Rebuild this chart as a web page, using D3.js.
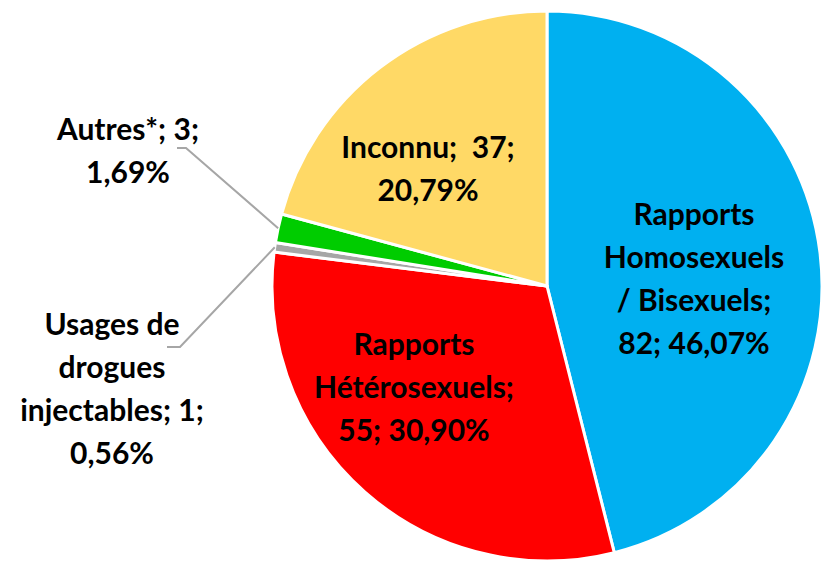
<!DOCTYPE html>
<html>
<head>
<meta charset="utf-8">
<script src="https://cdn.jsdelivr.net/npm/d3@7"></script>
<style>
  body { margin: 0; background: #fff; }
  .lbl { font-family: Lato, "Open Sans", sans-serif; font-weight: bold; fill: #000; }
</style>
</head>
<body>
<div id="chart"></div>
<script>
// data
var categories = ["Rapports Homosexuels / Bisexuels", "Rapports Hétérosexuels", "Usages de drogues injectables", "Autres*", "Inconnu"];
var counts = [82, 55, 1, 3, 37];
var percents = ["46,07%", "30,90%", "0,56%", "1,69%", "20,79%"];
var labelLines = [
  ["Rapports", "Homosexuels", "/ Bisexuels;", "82; 46,07%"],
  ["Rapports", "Hétérosexuels;", "55; 30,90%"],
  ["Usages de", "drogues", "injectables; 1;", "0,56%"],
  ["Autres*; 3;", "1,69%"],
  ["Inconnu;  37;", "20,79%"]
];
var colors = ["#00B0F0", "#FF0000", "#A6A6A6", "#00CC00", "#FFD966"];

var svgWidth = 827, svgHeight = 567;
var cx = 547, cy = 286, radius = 275;

// label placement (first baseline) and leader line start
var labelPos = [
  { x: 694, y: 225 },
  { x: 414, y: 355 },
  { x: 112, y: 335, leader: [167, 347, 180] },
  { x: 128, y: 140, leader: [177, 148, 186] },
  { x: 428, y: 158 }
];
var lineGap = 43;

var svg = d3.select("#chart")
  .append("svg")
  .attr("width", svgWidth)
  .attr("height", svgHeight);

var g = svg.append("g")
  .attr("transform", `translate(${cx}, ${cy})`);

var data = categories.map((c, i) => ({ name: c, value: counts[i], i: i }));

var pie = d3.pie().sort(null).value(d => d.value);
var arc = d3.arc().innerRadius(0).outerRadius(radius);
var arcs = pie(data);

g.selectAll("path")
  .data(arcs)
  .enter()
  .append("path")
  .attr("d", arc)
  .attr("fill", d => colors[d.data.i])
  .attr("stroke", "#fff")
  .attr("stroke-width", 3)
  .attr("stroke-linejoin", "round");

// leader lines for small slices
arcs.forEach(d => {
  var p = labelPos[d.data.i];
  if (!p.leader) return;
  var mid = (d.startAngle + d.endAngle) / 2;
  var ex = Math.sin(mid) * radius, ey = -Math.cos(mid) * radius;
  var pts = [[p.leader[0] - cx, p.leader[1] - cy], [p.leader[2] - cx, p.leader[1] - cy], [ex, ey]];
  g.append("path")
    .attr("d", d3.line()(pts))
    .attr("fill", "none")
    .attr("stroke", "#A6A6A6")
    .attr("stroke-width", 2);
});

// labels
labelLines.forEach((lines, i) => {
  var p = labelPos[i];
  var t = svg.append("text")
    .attr("class", "lbl")
    .attr("text-anchor", "middle")
    .style("font-size", "30px")
    .style("white-space", "pre");
  lines.forEach((l, k) => {
    t.append("tspan")
      .attr("x", p.x)
      .attr("y", p.y + k * lineGap)
      .text(l);
  });
});
</script>
</body>
</html>
